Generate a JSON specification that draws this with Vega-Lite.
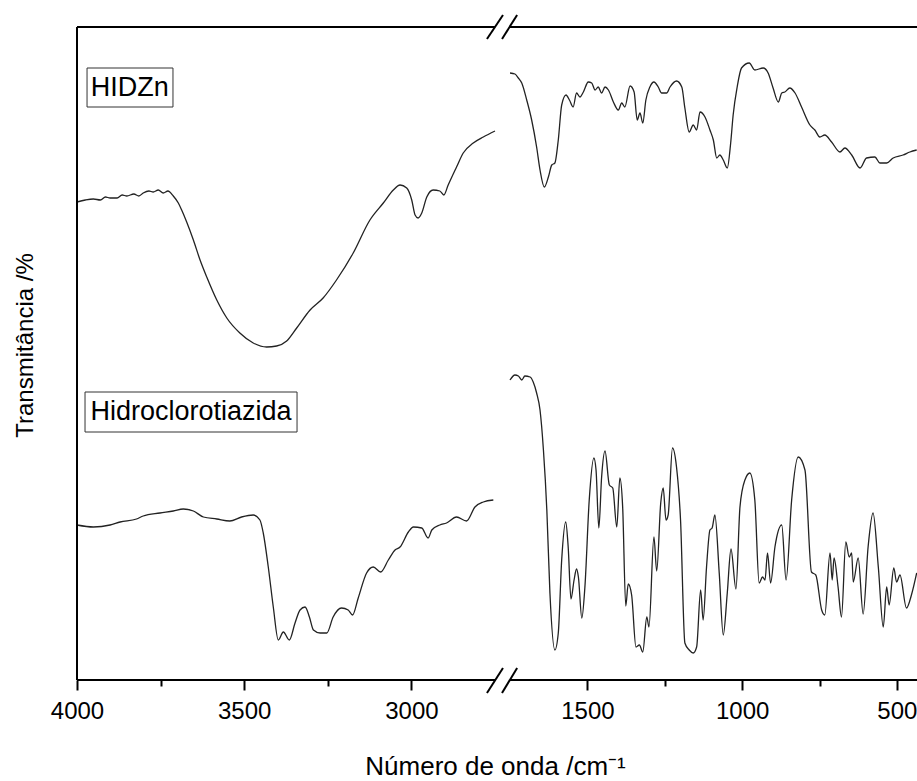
{
  "$schema": "https://vega.github.io/schema/vega-lite/v6.json",
  "width": 840,
  "height": 653,
  "autosize": "none",
  "padding": {"left": 77, "top": 27, "right": 0, "bottom": 101},
  "config": {"font": "Liberation Sans", "view": {"stroke": null}, "axis": {"grid": false}},
  "datasets": {
    "spectra": [
      {"series":"HIDZn a","wn":4000,"t":478},{"series":"HIDZn a","wn":3975,"t":480},{"series":"HIDZn a","wn":3951,"t":481},{"series":"HIDZn a","wn":3930,"t":480},{"series":"HIDZn a","wn":3915,"t":483},{"series":"HIDZn a","wn":3901,"t":482},{"series":"HIDZn a","wn":3880,"t":482},{"series":"HIDZn a","wn":3865,"t":485},{"series":"HIDZn a","wn":3851,"t":484},{"series":"HIDZn a","wn":3830,"t":486},{"series":"HIDZn a","wn":3815,"t":484},{"series":"HIDZn a","wn":3802,"t":487},{"series":"HIDZn a","wn":3785,"t":489},{"series":"HIDZn a","wn":3772,"t":488},{"series":"HIDZn a","wn":3757,"t":490},{"series":"HIDZn a","wn":3742,"t":487},{"series":"HIDZn a","wn":3728,"t":489},{"series":"HIDZn a","wn":3712,"t":484},{"series":"HIDZn a","wn":3697,"t":477},{"series":"HIDZn a","wn":3687,"t":470},{"series":"HIDZn a","wn":3672,"t":458},{"series":"HIDZn a","wn":3652,"t":440},{"series":"HIDZn a","wn":3632,"t":420},{"series":"HIDZn a","wn":3612,"t":403},{"series":"HIDZn a","wn":3582,"t":380},{"series":"HIDZn a","wn":3552,"t":362},{"series":"HIDZn a","wn":3513,"t":347},{"series":"HIDZn a","wn":3473,"t":337},{"series":"HIDZn a","wn":3433,"t":333},{"series":"HIDZn a","wn":3403,"t":334},{"series":"HIDZn a","wn":3373,"t":339},{"series":"HIDZn a","wn":3343,"t":352},{"series":"HIDZn a","wn":3303,"t":370},{"series":"HIDZn a","wn":3264,"t":382},{"series":"HIDZn a","wn":3224,"t":400},{"series":"HIDZn a","wn":3174,"t":427},{"series":"HIDZn a","wn":3124,"t":460},{"series":"HIDZn a","wn":3084,"t":477},{"series":"HIDZn a","wn":3054,"t":490},{"series":"HIDZn a","wn":3034,"t":495},{"series":"HIDZn a","wn":3014,"t":492},{"series":"HIDZn a","wn":2999,"t":480},{"series":"HIDZn a","wn":2989,"t":465},{"series":"HIDZn a","wn":2980,"t":462},{"series":"HIDZn a","wn":2969,"t":467},{"series":"HIDZn a","wn":2954,"t":483},{"series":"HIDZn a","wn":2935,"t":490},{"series":"HIDZn a","wn":2915,"t":489},{"series":"HIDZn a","wn":2903,"t":485},{"series":"HIDZn a","wn":2890,"t":495},{"series":"HIDZn a","wn":2865,"t":513},{"series":"HIDZn a","wn":2845,"t":527},{"series":"HIDZn a","wn":2815,"t":537},{"series":"HIDZn a","wn":2785,"t":543},{"series":"HIDZn a","wn":2750,"t":549},

      {"series":"HIDZn b","wn":1750,"t":607},{"series":"HIDZn b","wn":1734,"t":606},{"series":"HIDZn b","wn":1723,"t":602},{"series":"HIDZn b","wn":1712,"t":597},{"series":"HIDZn b","wn":1696,"t":580},{"series":"HIDZn b","wn":1680,"t":560},{"series":"HIDZn b","wn":1664,"t":533},{"series":"HIDZn b","wn":1653,"t":510},{"series":"HIDZn b","wn":1639,"t":493},{"series":"HIDZn b","wn":1626,"t":503},{"series":"HIDZn b","wn":1615,"t":515},{"series":"HIDZn b","wn":1605,"t":517},{"series":"HIDZn b","wn":1594,"t":540},{"series":"HIDZn b","wn":1583,"t":575},{"series":"HIDZn b","wn":1569,"t":585},{"series":"HIDZn b","wn":1558,"t":580},{"series":"HIDZn b","wn":1546,"t":573},{"series":"HIDZn b","wn":1535,"t":587},{"series":"HIDZn b","wn":1524,"t":583},{"series":"HIDZn b","wn":1513,"t":588},{"series":"HIDZn b","wn":1497,"t":598},{"series":"HIDZn b","wn":1486,"t":597},{"series":"HIDZn b","wn":1475,"t":590},{"series":"HIDZn b","wn":1465,"t":593},{"series":"HIDZn b","wn":1454,"t":587},{"series":"HIDZn b","wn":1443,"t":593},{"series":"HIDZn b","wn":1432,"t":590},{"series":"HIDZn b","wn":1416,"t":578},{"series":"HIDZn b","wn":1400,"t":570},{"series":"HIDZn b","wn":1389,"t":577},{"series":"HIDZn b","wn":1379,"t":573},{"series":"HIDZn b","wn":1362,"t":594},{"series":"HIDZn b","wn":1349,"t":588},{"series":"HIDZn b","wn":1339,"t":560},{"series":"HIDZn b","wn":1330,"t":567},{"series":"HIDZn b","wn":1321,"t":557},{"series":"HIDZn b","wn":1311,"t":580},{"series":"HIDZn b","wn":1298,"t":593},{"series":"HIDZn b","wn":1285,"t":598},{"series":"HIDZn b","wn":1271,"t":593},{"series":"HIDZn b","wn":1260,"t":587},{"series":"HIDZn b","wn":1244,"t":587},{"series":"HIDZn b","wn":1233,"t":593},{"series":"HIDZn b","wn":1212,"t":599},{"series":"HIDZn b","wn":1195,"t":593},{"series":"HIDZn b","wn":1185,"t":572},{"series":"HIDZn b","wn":1171,"t":548},{"series":"HIDZn b","wn":1158,"t":555},{"series":"HIDZn b","wn":1147,"t":550},{"series":"HIDZn b","wn":1136,"t":568},{"series":"HIDZn b","wn":1120,"t":563},{"series":"HIDZn b","wn":1104,"t":550},{"series":"HIDZn b","wn":1093,"t":540},{"series":"HIDZn b","wn":1082,"t":522},{"series":"HIDZn b","wn":1072,"t":525},{"series":"HIDZn b","wn":1061,"t":520},{"series":"HIDZn b","wn":1048,"t":512},{"series":"HIDZn b","wn":1037,"t":537},{"series":"HIDZn b","wn":1029,"t":565},{"series":"HIDZn b","wn":1016,"t":593},{"series":"HIDZn b","wn":1002,"t":612},{"series":"HIDZn b","wn":977,"t":617},{"series":"HIDZn b","wn":959,"t":610},{"series":"HIDZn b","wn":932,"t":612},{"series":"HIDZn b","wn":916,"t":607},{"series":"HIDZn b","wn":900,"t":592},{"series":"HIDZn b","wn":883,"t":578},{"series":"HIDZn b","wn":872,"t":587},{"series":"HIDZn b","wn":862,"t":588},{"series":"HIDZn b","wn":846,"t":592},{"series":"HIDZn b","wn":829,"t":587},{"series":"HIDZn b","wn":808,"t":573},{"series":"HIDZn b","wn":781,"t":555},{"series":"HIDZn b","wn":765,"t":550},{"series":"HIDZn b","wn":749,"t":543},{"series":"HIDZn b","wn":733,"t":545},{"series":"HIDZn b","wn":711,"t":538},{"series":"HIDZn b","wn":684,"t":528},{"series":"HIDZn b","wn":668,"t":532},{"series":"HIDZn b","wn":646,"t":525},{"series":"HIDZn b","wn":619,"t":512},{"series":"HIDZn b","wn":598,"t":522},{"series":"HIDZn b","wn":571,"t":523},{"series":"HIDZn b","wn":555,"t":517},{"series":"HIDZn b","wn":533,"t":517},{"series":"HIDZn b","wn":512,"t":522},{"series":"HIDZn b","wn":480,"t":525},{"series":"HIDZn b","wn":458,"t":528},{"series":"HIDZn b","wn":436,"t":530},

      {"series":"HCTZ a","wn":4000,"t":155},{"series":"HCTZ a","wn":3951,"t":153},{"series":"HCTZ a","wn":3901,"t":155},{"series":"HCTZ a","wn":3871,"t":158},{"series":"HCTZ a","wn":3822,"t":161},{"series":"HCTZ a","wn":3802,"t":164},{"series":"HCTZ a","wn":3752,"t":167},{"series":"HCTZ a","wn":3712,"t":169},{"series":"HCTZ a","wn":3682,"t":171},{"series":"HCTZ a","wn":3652,"t":169},{"series":"HCTZ a","wn":3622,"t":163},{"series":"HCTZ a","wn":3582,"t":161},{"series":"HCTZ a","wn":3543,"t":159},{"series":"HCTZ a","wn":3508,"t":163},{"series":"HCTZ a","wn":3473,"t":165},{"series":"HCTZ a","wn":3453,"t":160},{"series":"HCTZ a","wn":3443,"t":147},{"series":"HCTZ a","wn":3428,"t":113},{"series":"HCTZ a","wn":3413,"t":73},{"series":"HCTZ a","wn":3398,"t":40},{"series":"HCTZ a","wn":3383,"t":48},{"series":"HCTZ a","wn":3365,"t":40},{"series":"HCTZ a","wn":3348,"t":57},{"series":"HCTZ a","wn":3333,"t":70},{"series":"HCTZ a","wn":3318,"t":73},{"series":"HCTZ a","wn":3305,"t":63},{"series":"HCTZ a","wn":3293,"t":50},{"series":"HCTZ a","wn":3273,"t":47},{"series":"HCTZ a","wn":3253,"t":47},{"series":"HCTZ a","wn":3234,"t":63},{"series":"HCTZ a","wn":3209,"t":72},{"series":"HCTZ a","wn":3189,"t":70},{"series":"HCTZ a","wn":3176,"t":65},{"series":"HCTZ a","wn":3159,"t":82},{"series":"HCTZ a","wn":3134,"t":107},{"series":"HCTZ a","wn":3114,"t":113},{"series":"HCTZ a","wn":3092,"t":108},{"series":"HCTZ a","wn":3069,"t":120},{"series":"HCTZ a","wn":3049,"t":130},{"series":"HCTZ a","wn":3034,"t":133},{"series":"HCTZ a","wn":3009,"t":148},{"series":"HCTZ a","wn":2994,"t":153},{"series":"HCTZ a","wn":2969,"t":152},{"series":"HCTZ a","wn":2950,"t":142},{"series":"HCTZ a","wn":2939,"t":150},{"series":"HCTZ a","wn":2915,"t":155},{"series":"HCTZ a","wn":2895,"t":157},{"series":"HCTZ a","wn":2865,"t":163},{"series":"HCTZ a","wn":2835,"t":159},{"series":"HCTZ a","wn":2810,"t":173},{"series":"HCTZ a","wn":2785,"t":178},{"series":"HCTZ a","wn":2755,"t":180},

      {"series":"HCTZ b","wn":1750,"t":300},{"series":"HCTZ b","wn":1734,"t":305},{"series":"HCTZ b","wn":1723,"t":304},{"series":"HCTZ b","wn":1712,"t":300},{"series":"HCTZ b","wn":1702,"t":304},{"series":"HCTZ b","wn":1685,"t":303},{"series":"HCTZ b","wn":1675,"t":298},{"series":"HCTZ b","wn":1664,"t":287},{"series":"HCTZ b","wn":1653,"t":270},{"series":"HCTZ b","wn":1642,"t":230},{"series":"HCTZ b","wn":1631,"t":170},{"series":"HCTZ b","wn":1621,"t":87},{"series":"HCTZ b","wn":1605,"t":30},{"series":"HCTZ b","wn":1594,"t":47},{"series":"HCTZ b","wn":1583,"t":120},{"series":"HCTZ b","wn":1570,"t":158},{"series":"HCTZ b","wn":1562,"t":133},{"series":"HCTZ b","wn":1553,"t":81},{"series":"HCTZ b","wn":1543,"t":100},{"series":"HCTZ b","wn":1535,"t":111},{"series":"HCTZ b","wn":1529,"t":103},{"series":"HCTZ b","wn":1518,"t":62},{"series":"HCTZ b","wn":1508,"t":93},{"series":"HCTZ b","wn":1494,"t":180},{"series":"HCTZ b","wn":1479,"t":222},{"series":"HCTZ b","wn":1472,"t":210},{"series":"HCTZ b","wn":1463,"t":152},{"series":"HCTZ b","wn":1454,"t":203},{"series":"HCTZ b","wn":1443,"t":229},{"series":"HCTZ b","wn":1429,"t":195},{"series":"HCTZ b","wn":1418,"t":192},{"series":"HCTZ b","wn":1405,"t":153},{"series":"HCTZ b","wn":1395,"t":202},{"series":"HCTZ b","wn":1386,"t":173},{"series":"HCTZ b","wn":1376,"t":74},{"series":"HCTZ b","wn":1368,"t":96},{"series":"HCTZ b","wn":1357,"t":85},{"series":"HCTZ b","wn":1343,"t":33},{"series":"HCTZ b","wn":1332,"t":35},{"series":"HCTZ b","wn":1321,"t":28},{"series":"HCTZ b","wn":1308,"t":63},{"series":"HCTZ b","wn":1301,"t":53},{"series":"HCTZ b","wn":1285,"t":143},{"series":"HCTZ b","wn":1276,"t":109},{"series":"HCTZ b","wn":1263,"t":177},{"series":"HCTZ b","wn":1255,"t":192},{"series":"HCTZ b","wn":1246,"t":160},{"series":"HCTZ b","wn":1239,"t":165},{"series":"HCTZ b","wn":1225,"t":232},{"series":"HCTZ b","wn":1212,"t":213},{"series":"HCTZ b","wn":1199,"t":160},{"series":"HCTZ b","wn":1185,"t":37},{"series":"HCTZ b","wn":1171,"t":30},{"series":"HCTZ b","wn":1158,"t":27},{"series":"HCTZ b","wn":1147,"t":33},{"series":"HCTZ b","wn":1134,"t":90},{"series":"HCTZ b","wn":1126,"t":60},{"series":"HCTZ b","wn":1115,"t":113},{"series":"HCTZ b","wn":1104,"t":150},{"series":"HCTZ b","wn":1097,"t":152},{"series":"HCTZ b","wn":1088,"t":165},{"series":"HCTZ b","wn":1074,"t":107},{"series":"HCTZ b","wn":1061,"t":45},{"series":"HCTZ b","wn":1048,"t":87},{"series":"HCTZ b","wn":1036,"t":131},{"series":"HCTZ b","wn":1020,"t":91},{"series":"HCTZ b","wn":1007,"t":173},{"series":"HCTZ b","wn":991,"t":200},{"series":"HCTZ b","wn":975,"t":207},{"series":"HCTZ b","wn":959,"t":180},{"series":"HCTZ b","wn":945,"t":97},{"series":"HCTZ b","wn":934,"t":103},{"series":"HCTZ b","wn":926,"t":100},{"series":"HCTZ b","wn":918,"t":127},{"series":"HCTZ b","wn":908,"t":97},{"series":"HCTZ b","wn":894,"t":133},{"series":"HCTZ b","wn":872,"t":155},{"series":"HCTZ b","wn":858,"t":100},{"series":"HCTZ b","wn":840,"t":180},{"series":"HCTZ b","wn":819,"t":223},{"series":"HCTZ b","wn":797,"t":210},{"series":"HCTZ b","wn":776,"t":108},{"series":"HCTZ b","wn":762,"t":105},{"series":"HCTZ b","wn":743,"t":70},{"series":"HCTZ b","wn":733,"t":65},{"series":"HCTZ b","wn":716,"t":127},{"series":"HCTZ b","wn":709,"t":100},{"series":"HCTZ b","wn":703,"t":122},{"series":"HCTZ b","wn":690,"t":93},{"series":"HCTZ b","wn":679,"t":63},{"series":"HCTZ b","wn":665,"t":138},{"series":"HCTZ b","wn":654,"t":123},{"series":"HCTZ b","wn":646,"t":127},{"series":"HCTZ b","wn":641,"t":98},{"series":"HCTZ b","wn":625,"t":122},{"series":"HCTZ b","wn":609,"t":66},{"series":"HCTZ b","wn":593,"t":133},{"series":"HCTZ b","wn":577,"t":167},{"series":"HCTZ b","wn":560,"t":113},{"series":"HCTZ b","wn":544,"t":53},{"series":"HCTZ b","wn":533,"t":93},{"series":"HCTZ b","wn":525,"t":75},{"series":"HCTZ b","wn":510,"t":112},{"series":"HCTZ b","wn":501,"t":98},{"series":"HCTZ b","wn":490,"t":105},{"series":"HCTZ b","wn":469,"t":72},{"series":"HCTZ b","wn":453,"t":85},{"series":"HCTZ b","wn":436,"t":107}
    ],
    "frame": [
      {"part":"top left","x":4000,"x2":2750,"y":653,"y2":653},
      {"part":"top right","x":1750,"x2":435,"y":653,"y2":653},
      {"part":"bottom left","x":4000,"x2":2750,"y":0,"y2":0},
      {"part":"bottom right","x":1750,"x2":435,"y":0,"y2":0},
      {"part":"left","x":4000,"x2":4000,"y":0,"y2":653},
      {"part":"break top 1","x":2774,"x2":2217,"y":641,"y2":665},
      {"part":"break top 2","x":2283,"x2":1727,"y":641,"y2":665},
      {"part":"break bottom 1","x":2774,"x2":2217,"y":-13,"y2":12},
      {"part":"break bottom 2","x":2283,"x2":1727,"y":-13,"y2":12}
    ],
    "labels": [
      {"label":"HIDZn","x":3970,"x2":3713,"y":612,"y2":573,"xc":3842,"yc":592},
      {"label":"Hidroclorotiazida","x":3976,"x2":3342,"y":288,"y2":248,"xc":3659,"yc":268}
    ]
  },
  "resolve": {"axis": {"x": "independent", "y": "independent"}},
  "layer": [
    {
      "data": {"name": "spectra"},
      "mark": {"type": "line", "color": "#222222", "strokeWidth": 1.3, "interpolate": "monotone"},
      "encoding": {
        "x": {"field": "wn", "type": "quantitative",
          "scale": {"domain": [4000, 2750, 1750, 435], "range": [0, 418, 433, 840], "nice": false, "zero": false},
          "axis": {"orient": "bottom", "values": [4000, 3500, 3000, 1500, 1000, 500], "format": "d", "domain": false, "tickSize": 10, "tickWidth": 2, "tickColor": "black",
            "labelFontSize": 24, "labelColor": "black", "labelPadding": 9, "labelFlush": false, "labelOverlap": false,
            "title": "Número de onda /cm⁻¹", "titleFontSize": 26, "titleFontWeight": "normal", "titleColor": "black",
            "titleBaseline": "alphabetic", "titleY": 94, "titleX": 418}},
        "y": {"field": "t", "type": "quantitative",
          "scale": {"domain": [0, 653], "nice": false, "zero": false},
          "axis": {"orient": "left", "domain": false, "ticks": false, "labels": false,
            "title": "Transmitância /%", "titleFontSize": 24, "titleFontWeight": "normal", "titleColor": "black",
            "titlePadding": 40, "titleY": 318}},
        "detail": {"field": "series"}
      }
    },
    {
      "data": {"name": "frame"},
      "mark": {"type": "rule", "color": "black", "strokeWidth": 2},
      "encoding": {
        "x": {"field": "x", "type": "quantitative",
          "scale": {"domain": [4000, 2750, 1750, 435], "range": [0, 418, 433, 840], "nice": false, "zero": false},
          "axis": {"orient": "bottom", "values": [3750, 3250, 1250, 750], "domain": false, "labels": false, "tickSize": 6, "tickWidth": 2, "tickColor": "black", "title": null}},
        "x2": {"field": "x2"},
        "y": {"field": "y", "type": "quantitative", "scale": {"domain": [0, 653], "nice": false, "zero": false}, "axis": null},
        "y2": {"field": "y2"}
      }
    },
    {
      "data": {"name": "labels"},
      "mark": {"type": "rect", "fill": "white", "stroke": "#333333", "strokeWidth": 1},
      "encoding": {
        "x": {"field": "x", "type": "quantitative",
          "scale": {"domain": [4000, 2750, 1750, 435], "range": [0, 418, 433, 840], "nice": false, "zero": false}, "axis": null},
        "x2": {"field": "x2"},
        "y": {"field": "y", "type": "quantitative", "scale": {"domain": [0, 653], "nice": false, "zero": false}, "axis": null},
        "y2": {"field": "y2"}
      }
    },
    {
      "data": {"name": "labels"},
      "mark": {"type": "text", "fontSize": 27, "color": "black", "align": "center", "baseline": "middle"},
      "encoding": {
        "x": {"field": "xc", "type": "quantitative",
          "scale": {"domain": [4000, 2750, 1750, 435], "range": [0, 418, 433, 840], "nice": false, "zero": false}, "axis": null},
        "y": {"field": "yc", "type": "quantitative", "scale": {"domain": [0, 653], "nice": false, "zero": false}, "axis": null},
        "text": {"field": "label"}
      }
    }
  ]
}
